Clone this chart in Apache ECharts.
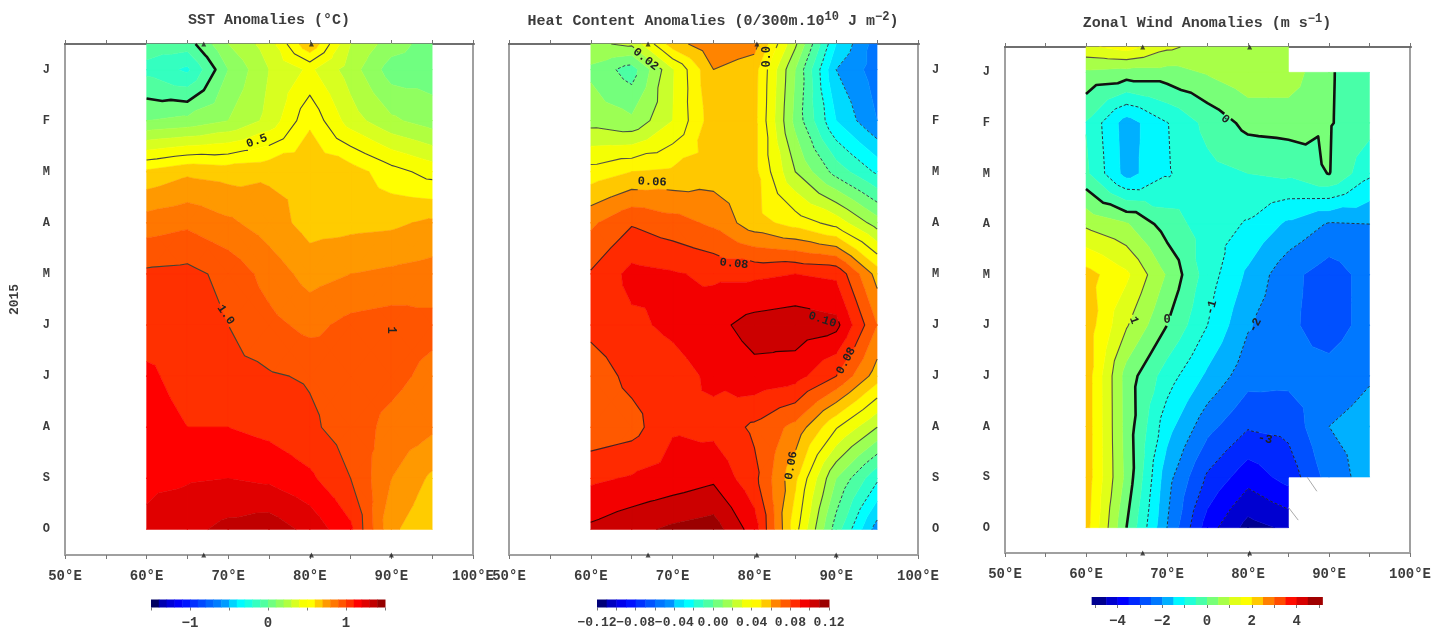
<!DOCTYPE html>
<html><head><meta charset="utf-8">
<style>html,body{margin:0;padding:0;background:#fff}#c{width:1448px;height:637px;filter:blur(.6px)}</style>
<script src="https://cdn.jsdelivr.net/npm/echarts@6/dist/echarts.min.js"></script>
</head><body><div id="c"></div>
<script>
const months = ['J','F','M','A','M','J','J','A','S','O'];
const lons = [60,65,70,75,80,85,90,95];
const rowPos = [-0.5,0,1,2,3,4,5,6,7,8,9];
const sstValues = [
[-.05,-.05,.2,.35,.69,.3,.15,.05],
[-.13,-.22,.1,.3,.42,.25,.05,.05],
[.1,.13,.2,.33,.58,.35,.22,.15],
[.62,.68,.66,.68,.69,.65,.54,.46],
[.85,.88,.82,.75,.66,.67,.68,.72],
[1.02,1.03,.97,.86,.76,.8,.82,.84],
[1.05,1.06,1.0,.93,.87,.93,.95,.93],
[1.12,1.06,1.03,1.01,.99,.95,.93,.87],
[1.15,1.1,1.1,1.07,1.02,.95,.87,.82],
[1.18,1.19,1.2,1.18,1.12,1.0,.8,.68],
[1.22,1.27,1.33,1.36,1.27,1.12,.72,.62]];
const heatValues = [
[.018,.022,.055,.068,.064,.022,-.03,-.055],
[.008,-.005,.029,.06,.054,.01,-.04,-.055],
[.016,.012,.03,.056,.053,.007,-.03,-.05],
[.044,.05,.052,.055,.053,.02,-.004,-.022],
[.068,.079,.074,.068,.054,.046,.036,.015],
[.081,.093,.091,.088,.088,.09,.088,.056],
[.083,.088,.092,.097,.104,.106,.103,.07],
[.074,.083,.086,.092,.097,.094,.08,.055],
[.073,.076,.089,.087,.078,.067,.041,.02],
[.088,.091,.094,.098,.083,.052,.01,-.018],
[.102,.107,.112,.115,.095,.044,-.005,-.045]];
const windValues = [
[1.4,1.7,1.1,.8,.9,.9,null,null],
[.4,.3,.3,.55,.85,.8,.05,-.3],
[-.53,-1.75,-1.02,-.35,.15,.2,.04,-.3],
[-.4,-1.7,-1.05,-.65,-.5,-.4,.02,-.9],
[.9,.55,-.25,-.75,-1.05,-1.6,-2.05,-2],
[2.2,1.6,.45,-.75,-1.6,-2.35,-2.75,-2.3],
[2.3,1.05,0,-1,-1.95,-2.4,-2.75,-2.3],
[2.3,.28,-.75,-1.6,-2.3,-2.35,-2.3,-2.05],
[2.3,.3,-1.3,-2.33,-2.95,-2.85,-2.0,-1.8],
[2.3,.35,-1.8,-3.08,-3.8,-3.3,-2.3,-1.75],
[2.2,0,-2,-3.75,-4.7,-4.4,null,null]];
const sstLines = [{v:0,w:2.6,c:'#111'},{v:.5,w:1.1,c:'#444'},{v:1,w:1.1,c:'#443'}];
const heatLines = [{v:-.04,w:1,c:'#345',d:[3,2]},{v:-.02,w:1,c:'#345',d:[3,2]},{v:0,w:1,c:'#345',d:[3,2]},{v:.02,w:1.1,c:'#454'},{v:.04,w:1.1,c:'#554'},{v:.06,w:1.1,c:'#543'},{v:.08,w:1.1,c:'#422'},{v:.1,w:1.1,c:'#300'}];
const windLines = [{v:-4,w:1,c:'#223',d:[3,2]},{v:-3,w:1,c:'#223',d:[3,2]},{v:-2,w:1,c:'#234',d:[3,2]},{v:-1,w:1,c:'#234',d:[3,2]},{v:0,w:2.6,c:'#111'},{v:1,w:1.1,c:'#554'}];
const sstLabels = [['0.5',73.5,1.4,20],['1.0',69.7,4.8,-55],['1',90,5.1,-90]];
const heatLabels = [['0.02',66.7,-.2,-38],['0.0',81.5,-.25,90],['0.06',67.5,2.2,-3],['0.08',77.5,3.8,-6],['0.10',88.3,4.9,-18],['0.08',91.2,5.7,62],['0.06',84.5,7.75,80]];
const windLabels = [['0',77.2,.93,-40],['1',65.9,4.9,-70],['0',70,4.9,0],['-1',75.5,4.65,75],['-2',80.9,5,62],['-3',82.1,7.25,-12]];
const topMarkerLons = [[67,80.2],[67,80.3],[67,80.2]];
const bottomMarkerLons = [[67,80.2,90],[67,80.3,90],[67,80.2]];
const windStrayA = [[87.3,8],[88.5,8.28]];
const windStrayB = [[85,8.6],[86.2,8.85]];
const topRule = [[48.8,-.5],[101.2,-.5]];
const paletteStops = [[0,'#000000'],[.025,'#000090'],[.075,'#0000d0'],[.125,'#0000ff'],[.175,'#0028ff'],[.225,'#0050ff'],[.275,'#0078ff'],[.3125,'#0090ff'],[.325,'#00b0ff'],[.375,'#00f8ff'],[.396,'#00ffff'],[.425,'#20ffd8'],[.475,'#48ffa8'],[.517,'#70ff80'],[.55,'#90ff60'],[.583,'#b0ff40'],[.617,'#d8ff20'],[.65,'#f8ff00'],[.683,'#ffff00'],[.717,'#ffcc00'],[.729,'#ffc800'],[.75,'#ff9900'],[.783,'#ff7700'],[.817,'#ff5500'],[.85,'#ff3000'],[.883,'#ff0000'],[.917,'#e00000'],[.95,'#c00000'],[1,'#800000']];

const hex = s => [1,3,5].map(i => parseInt(s.substr(i,2),16));
function pal(t){
  t=Math.max(0,Math.min(1,t));
  for(let i=1;i<paletteStops.length;i++){
    if(t<=paletteStops[i][0]){
      const [a,ca]=paletteStops[i-1],[b,cb]=paletteStops[i];
      const f=(t-a)/(b-a),A=hex(ca),B=hex(cb);
      return 'rgb('+A.map((v,k)=>Math.round(v+(B[k]-v)*f)).join(',')+')';
    }
  }
  return paletteStops[paletteStops.length-1][1];
}
function triangles(g){
  const out=[];
  for(let r=0;r<g.length-1;r++)for(let c=0;c<lons.length-1;c++){
    const q=[[c,r],[c+1,r],[c+1,r+1],[c,r+1]];
    if(q.some(([i,j])=>g[j][i]==null))continue;
    const P=q.map(([i,j])=>[lons[i],rowPos[j],g[j][i]]);
    const C=[0,1,2].map(k=>(P[0][k]+P[1][k]+P[2][k]+P[3][k])/4);
    for(let k=0;k<4;k++)out.push([P[k],P[(k+1)%4],C]);
  }
  return out;
}
function cut(poly,lev,keepAbove){
  const res=[];
  for(let i=0;i<poly.length;i++){
    const a=poly[i],b=poly[(i+1)%poly.length];
    const ia=keepAbove?a[2]>=lev:a[2]<=lev, ib=keepAbove?b[2]>=lev:b[2]<=lev;
    if(ia)res.push(a);
    if(ia!==ib){const f=(lev-a[2])/(b[2]-a[2]);res.push([a[0]+(b[0]-a[0])*f,a[1]+(b[1]-a[1])*f,lev]);}
  }
  return res;
}
function segments(tris,lev){
  const L=lev+1e-7,segs=[];
  tris.forEach(t=>{
    const pts=[];
    for(let i=0;i<3;i++){
      let a=t[i],b=t[(i+1)%3];
      if((a[2]>=L)!==(b[2]>=L)){
        if(a[0]>b[0]||(a[0]===b[0]&&a[1]>b[1])){const x=a;a=b;b=x;}
        const f=(L-a[2])/(b[2]-a[2]);
        pts.push([a[0]+(b[0]-a[0])*f,a[1]+(b[1]-a[1])*f]);
      }
    }
    if(pts.length===2)segs.push(pts);
  });
  return segs;
}
function chain(segs){
  const key=p=>p[0].toFixed(5)+','+p[1].toFixed(5),map={};
  segs.forEach((s,i)=>{[0,1].forEach(e=>{(map[key(s[e])]=map[key(s[e])]||[]).push([i,e]);});});
  const used=segs.map(()=>false),lines=[];
  const walk=(start,line)=>{let cur=start;for(;;){const n=(map[key(cur)]||[]).find(([i])=>!used[i]);if(!n)break;used[n[0]]=true;cur=segs[n[0]][1-n[1]];line.push(cur);}};
  Object.keys(map).forEach(k=>{if(map[k].length===1&&!used[map[k][0][0]]){const [i,e]=map[k][0];used[i]=true;const l=[segs[i][e],segs[i][1-e]];walk(l[1],l);lines.push(l);}});
  segs.forEach((s,i)=>{if(!used[i]){used[i]=true;const l=[s[0],s[1]];walk(s[1],l);lines.push(l);}});
  return lines;
}
function gapPath(pix,holes){
  let d='',pen=false;
  for(let i=0;i<pix.length-1;i++){
    const a=pix[i],b=pix[i+1];
    let ints=[[0,1]];
    holes.forEach(h=>{
      const dx=b[0]-a[0],dy=b[1]-a[1],fx=a[0]-h[0],fy=a[1]-h[1];
      const A=dx*dx+dy*dy||1e-9,B=2*(fx*dx+fy*dy),C=fx*fx+fy*fy-h[2]*h[2],D=B*B-4*A*C;
      if(D<=0)return;
      const t0=(-B-Math.sqrt(D))/(2*A),t1=(-B+Math.sqrt(D))/(2*A),next=[];
      ints.forEach(([s,e])=>{if(t0>s)next.push([s,Math.min(e,t0)]);if(t1<e)next.push([Math.max(s,t1),e]);});
      ints=next.filter(([s,e])=>e>s);
    });
    ints.forEach(([s,e])=>{
      const x0=a[0]+(b[0]-a[0])*s,y0=a[1]+(b[1]-a[1])*s,x1=a[0]+(b[0]-a[0])*e,y1=a[1]+(b[1]-a[1])*e;
      if(!(pen&&s===0))d+='M'+x0.toFixed(2)+' '+y0.toFixed(2);
      d+='L'+x1.toFixed(2)+' '+y1.toFixed(2);
      pen=e===1;
    });
    if(!ints.length)pen=false;
  }
  return d;
}
function bandsOf(vmin,vmax,step){
  const n=Math.round((vmax-vmin)/step),b=[];
  for(let i=0;i<n;i++){
    const lo=vmin+i*step,hi=lo+step;
    b.push([lo,hi,pal(((lo+hi)/2-vmin)/(vmax-vmin))]);
  }
  return b;
}
const mono='"Liberation Mono","DejaVu Sans Mono",monospace';
const ink='#3c3c3c';
function contourRender(p){
  const tris=triangles(p.values),bands=bandsOf(p.vmin,p.vmax,p.step);
  return function(params,api){
    const xy=q=>api.coord([q[0],q[1]]),children=[];
    bands.forEach(([lo,hi,col],i)=>{
      let d='';
      const a=i===0?-1e9:lo,b=i===bands.length-1?1e9:hi;
      tris.forEach(t=>{
        let poly=cut(t,a,true);if(poly.length<3)return;
        poly=cut(poly,b,false);if(poly.length<3)return;
        poly.forEach((q,k)=>{const s=xy(q);d+=(k?'L':'M')+s[0].toFixed(2)+' '+s[1].toFixed(2);});d+='Z';
      });
      if(d)children.push({type:'path',shape:{pathData:d},style:{fill:col,stroke:col,lineWidth:.5},silent:true});
    });
    const holes=p.labels.map(l=>{const s=xy([l[1],l[2]]);return [s[0],s[1],l[0].length*3.6+2];});
    p.lines.forEach(L=>{
      let d='';
      chain(segments(tris,L.v)).forEach(line=>{d+=gapPath(line.map(xy),holes);});
      if(d)children.push({type:'path',shape:{pathData:d},style:{fill:'none',stroke:L.c,lineWidth:L.w,lineDash:L.d||null,lineJoin:'round'},silent:true});
    });
    p.labels.forEach(l=>{
      const s=xy([l[1],l[2]]);
      children.push({type:'text',x:s[0],y:s[1],rotation:l[3]*Math.PI/180,silent:true,
        style:{text:l[0],x:0,y:0,align:'center',verticalAlign:'middle',fill:'#222',font:'bold 12px '+mono}});
    });
    return {type:'group',children};
  };
}
function barRender(p){
  const bands=bandsOf(p.vmin,p.vmax,p.step);
  return function(params,api){
    const children=bands.map(([lo,hi,col],i)=>{
      const a=api.coord([i===0?lo-p.ext:lo,0]),b=api.coord([i===bands.length-1?hi+p.ext:hi,1]);
      return {type:'rect',shape:{x:a[0],y:b[1],width:b[0]-a[0]+.5,height:a[1]-b[1]},style:{fill:col},silent:true};
    });
    return {type:'group',children};
  };
}
const panels=[
 {values:sstValues,lines:sstLines,labels:sstLabels,vmin:-1.5,vmax:1.5,step:.1,ext:0,grid:[65,44,408,511],side:'left',bar:[151,234,599.5],barInt:.5,barFmt:v=>Number.isInteger(v)?(v<0?'\u2212'+(-v):''+v):''},
 {values:heatValues,lines:heatLines,labels:heatLabels,vmin:-.12,vmax:.12,step:.01,ext:0,grid:[509,44,409,511],side:'right',bar:[597,232,599.5],barInt:.02,barFmt:v=>{const n=Math.round(v*100);return n%4===0?(n<0?'\u2212':'')+Math.abs(v).toFixed(2):'';}},
 {values:windValues,lines:windLines,labels:windLabels,vmin:-5,vmax:5,step:.5,ext:.15,grid:[1005,47,405,506],side:'left',bar:[1095,224,597],barInt:1,barFmt:v=>(v%2===0)?(v<0?'\u2212'+(-v):''+v):''}
];
const titleRich={a:{fontFamily:mono,fontSize:15,fontWeight:'bold',color:ink},s:{fontFamily:mono,fontSize:12,fontWeight:'bold',color:ink,padding:[0,0,8,0]}};
const option={animation:false,backgroundColor:'#fff',
 title:[
  {text:'{a|SST Anomalies (\u00b0C)}',left:264,top:8,textAlign:'center',textStyle:{rich:titleRich}},
  {text:'{a|Heat Content Anomalies (0/300m.10}{s|10}{a| J m}{s|\u22122}{a|)}',left:708,top:6,textAlign:'center',textStyle:{rich:titleRich}},
  {text:'{a|Zonal Wind Anomalies (m s}{s|\u22121}{a|)}',left:1202,top:8,textAlign:'center',textStyle:{rich:titleRich}}
 ],
 grid:[],xAxis:[],yAxis:[],series:[]};
panels.forEach((p,i)=>{
  const g=option.grid.length,[l,t,w,h]=p.grid;
  option.grid.push({left:l,top:t,width:w,height:h});
  const frame={lineStyle:{color:'#a0a0a0',width:2}};
  const xb=option.xAxis.length;
  option.xAxis.push({gridIndex:g,type:'value',position:'bottom',min:50,max:100,interval:5,splitLine:{show:false},
    axisLine:{onZero:false,lineStyle:{color:'#a0a0a0',width:2}},axisTick:{length:4,lineStyle:{color:'#777'}},
    axisLabel:{margin:14,color:ink,fontFamily:mono,fontSize:14,fontWeight:'bold',hideOverlap:false,formatter:v=>v%10===0?v+'\u00b0E':''}});
  option.xAxis.push({gridIndex:g,type:'value',position:'top',min:50,max:100,interval:5,splitLine:{show:false},
    axisLine:{onZero:false,lineStyle:{color:'#666',width:1.5}},axisTick:{length:4,lineStyle:{color:'#777'}},axisLabel:{show:false}});
  const yb=option.yAxis.length;
  option.yAxis.push({gridIndex:g,type:'category',data:months,inverse:true,position:p.side,axisLine:Object.assign({onZero:false},frame),
    axisTick:{length:4,lineStyle:{color:'#777'}},
    axisLabel:{margin:p.side==='left'?15:14,color:ink,fontFamily:mono,fontSize:12,fontWeight:'bold',interval:0},
    name:i===0?'2015':'',nameLocation:'middle',nameGap:44,nameRotate:90,nameTextStyle:{color:ink,fontFamily:mono,fontSize:13,fontWeight:'bold'}});
  option.yAxis.push({gridIndex:g,type:'category',data:months,inverse:true,position:p.side==='left'?'right':'left',axisLine:Object.assign({onZero:false},frame),
    axisTick:{length:4,lineStyle:{color:'#777'}},axisLabel:{show:false}});
  option.yAxis.push({gridIndex:g,type:'value',inverse:true,min:-.5,max:9.5,show:false});
  option.series.push({type:'custom',xAxisIndex:xb,yAxisIndex:yb+2,renderItem:contourRender(p),data:[[60,0]],clip:false,silent:true,z:2});
  const pick=(arr,row)=>arr[i].map(x=>[x,row]);
  option.series.push({type:'scatter',xAxisIndex:xb,yAxisIndex:yb+2,symbol:'triangle',symbolSize:5,itemStyle:{color:'#222'},data:pick(topMarkerLons,-.5).concat(pick(bottomMarkerLons,9.5)),silent:true,z:5});
  option.series.push({type:'line',xAxisIndex:xb,yAxisIndex:yb+2,data:topRule,clip:false,symbol:'none',silent:true,lineStyle:{color:'#666',width:1.5},z:1});
  if(i===2){
    [windStrayA,windStrayB].forEach(s=>option.series.push({type:'line',xAxisIndex:xb,yAxisIndex:yb+2,data:s,symbol:'none',silent:true,lineStyle:{color:'#aaa',width:1},z:3}));
  }
  const bg=option.grid.length,[bl,bw,bt]=p.bar;
  option.grid.push({left:bl,top:bt,width:bw,height:8});
  const bx=option.xAxis.length;
  option.xAxis.push({gridIndex:bg,type:'value',min:p.vmin,max:p.vmax,interval:p.barInt,splitLine:{show:false},axisLine:{show:false},
    axisTick:{length:3,lineStyle:{color:'#777'}},
    axisLabel:{margin:9,color:ink,fontFamily:mono,fontSize:i===1?13:14,fontWeight:'bold',hideOverlap:false,formatter:p.barFmt}});
  const by=option.yAxis.length;
  option.yAxis.push({gridIndex:bg,type:'value',min:0,max:1,show:false});
  option.series.push({type:'custom',xAxisIndex:bx,yAxisIndex:by,renderItem:barRender(p),data:[[p.vmin,0]],clip:false,silent:true,z:2});
});
const chart=echarts.init(document.getElementById('c'));
chart.setOption(option);
</script></body></html>
